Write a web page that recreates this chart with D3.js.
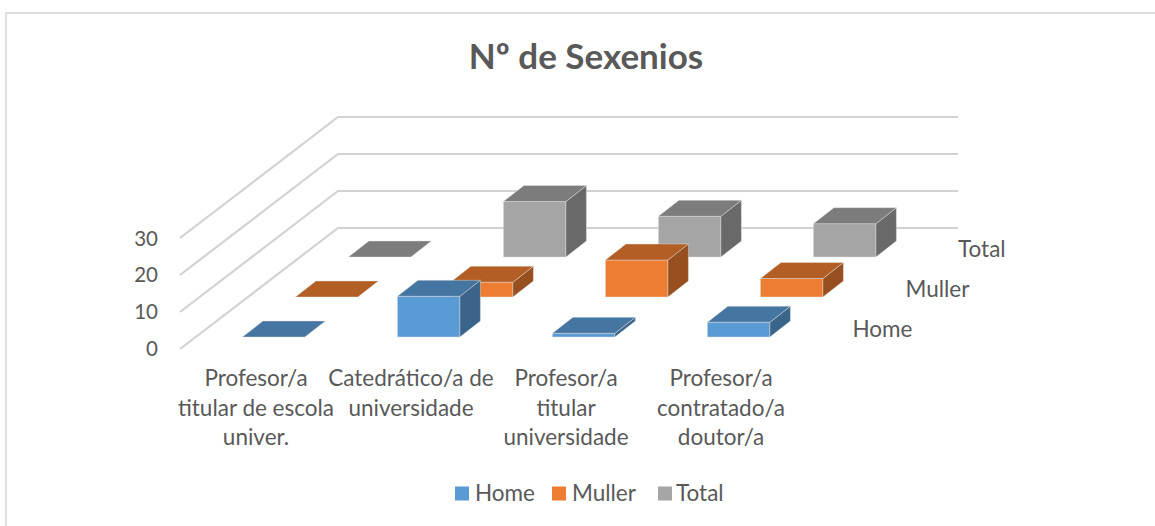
<!DOCTYPE html>
<html><head><meta charset="utf-8">
<script src="https://cdn.jsdelivr.net/npm/d3@7/dist/d3.min.js"></script>
<style>html,body{margin:0;background:#fff}svg{display:block}text{font-family:Lato,"Open Sans",sans-serif}</style>
</head><body><svg id="c" width="1155" height="526"></svg>
<script>
const title = "Nº de Sexenios";
const categories = [["Profesor/a","titular de escola","univer."],["Catedrático/a de","universidade"],["Profesor/a","titular","universidade"],["Profesor/a","contratado/a","doutor/a"]];
const seriesNames = ["Home","Muller","Total"];
const home = [0,11,1,4];
const muller = [0,4,10,5];
const total = [0,15,11,9];
const seriesValues = [home,muller,total];
const yTicks = [0,10,20,30];
const colors = {Home:["#5b9bd5","#4575a1","#3a6489"],Muller:["#ed7d31","#b25e25","#974f1f"],Total:["#a5a5a5","#7c7c7c","#696969"]};
const textColor = "#595959", gridColor = "#d2d2d2";

const svg = d3.select("#c");
svg.append("path").attr("d","M6,526V13H1155").attr("fill","none").attr("stroke","#e0e0e0").attr("stroke-width",2);

const x = d3.scalePoint().domain(d3.range(categories.length)).range([242.4,707.4]);
const sx = d3.scalePoint().domain(seriesNames).range([0,106]);
const sy = d3.scalePoint().domain(seriesNames).range([337,257]);
const y = d3.scaleLinear().domain([0,30]).range([0,-111]);
const barW = 62.5, dX = 20.5, dY = -16;

// floor / wall gridlines
const grid = svg.append("g");
yTicks.forEach(t=>{
  grid.append("path")
    .attr("d",d3.line()([[180,349+y(t)],[338,228+y(t)],[958,228+y(t)]]))
    .attr("fill","none").attr("stroke",gridColor).attr("stroke-width",2.2);
  svg.append("text").attr("x",158).attr("y",348+y(t)*0.99+7.5).attr("text-anchor","end")
    .attr("font-size",20.5).attr("fill",textColor).text(t);
});

// bars: back series first
[2,1,0].forEach(si=>{
  const name = seriesNames[si], c = colors[name];
  const g = svg.append("g");
  seriesValues[si].forEach((v,i)=>{
    const x0 = x(i)+sx(name), x1 = x0+barW, b = sy(name), t = b+y(v);
    const poly = (pts,fill)=>g.append("polygon").attr("points",pts.map(p=>p.join(",")).join(" "))
      .attr("fill",fill).attr("stroke","#e4e4e4").attr("stroke-opacity",.55).attr("stroke-width",.8);
    if(v>0){
      poly([[x0,b],[x1,b],[x1,t],[x0,t]],c[0]);
      poly([[x1,b],[x1+dX,b+dY],[x1+dX,t+dY],[x1,t]],c[2]);
    }
    poly([[x0,t],[x1,t],[x1+dX,t+dY],[x0+dX,t+dY]],c[1]);
  });
});

// series-axis labels
const seriesLabelX = {Home:852.5,Muller:905.5,Total:958};
seriesNames.forEach(n=>svg.append("text").attr("x",seriesLabelX[n]).attr("y",sy(n)-0.5)
  .attr("font-size",22.5).attr("fill",textColor).text(n));

// category labels
const catX = d3.scalePoint().domain(d3.range(categories.length)).range([256,721]);
categories.forEach((lines,i)=>{
  lines.forEach((l,j)=>svg.append("text").attr("x",catX(i)).attr("y",386+j*29.5)
    .attr("text-anchor","middle").attr("font-size",22.5).attr("fill",textColor).text(l));
});

// title
svg.append("text").attr("x",586).attr("y",69).attr("text-anchor","middle")
  .attr("font-size",35).attr("font-weight",700).attr("fill",textColor).text(title);

// legend
const legX = {Home:[455,475],Muller:[552,572],Total:[658,676]};
seriesNames.forEach(n=>{
  svg.append("rect").attr("x",legX[n][0]).attr("y",486.5).attr("width",14).attr("height",14).attr("fill",colors[n][0]);
  svg.append("text").attr("x",legX[n][1]).attr("y",500.5).attr("font-size",22.5).attr("fill",textColor).text(n);
});
</script></body></html>
